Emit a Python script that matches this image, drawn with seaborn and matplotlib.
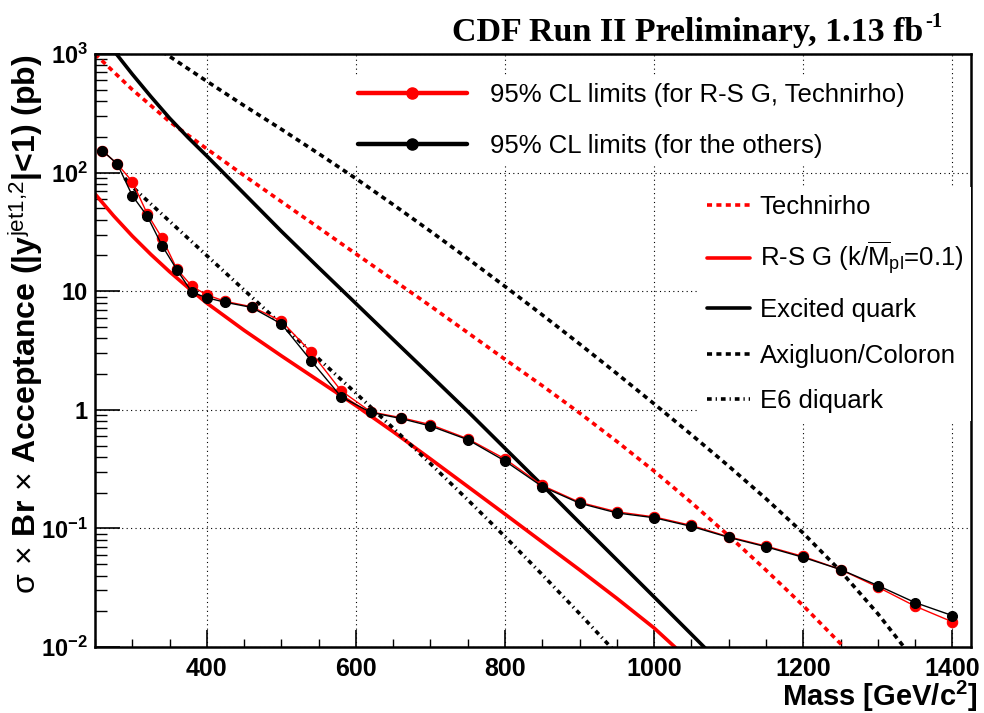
import matplotlib
matplotlib.use("Agg")
import matplotlib.pyplot as plt
import seaborn as sns
import numpy as np
from matplotlib.lines import Line2D
from matplotlib.ticker import FixedLocator, FixedFormatter, MultipleLocator, LogLocator, NullFormatter

# ---------------- data ----------------
mass_lim = [260, 280, 300, 320, 340, 360, 380, 400, 425, 460, 500, 540, 580, 620, 660,
            700, 750, 800, 850, 900, 950, 1000, 1050, 1100, 1150, 1200, 1250, 1300, 1350, 1400]
lim_others = [153, 118, 64, 43, 24.2, 15.1, 9.8, 8.8, 8.06, 7.3, 5.3, 2.59, 1.29, 0.95, 0.845,
              0.73, 0.56, 0.37, 0.225, 0.163, 0.135, 0.123, 0.104, 0.084, 0.070, 0.057, 0.045,
              0.033, 0.0237, 0.0184]
lim_rsg = [153, 118, 84, 45, 28, 15.3, 11, 9.3, 8.2, 7.4, 5.6, 3.05, 1.45, 0.96, 0.86,
           0.75, 0.57, 0.385, 0.23, 0.166, 0.138, 0.125, 0.106, 0.085, 0.071, 0.058, 0.045,
           0.032, 0.0221, 0.0163]

technirho_m = [250, 300, 350, 400, 450, 500, 550, 600, 650, 700, 750, 800, 850, 900, 950,
               1000, 1050, 1100, 1150, 1200, 1250, 1265]
technirho = [1000, 501, 269, 158.5, 94.4, 56.9, 34.3, 20.65, 12.45, 7.5, 4.47, 2.66, 1.596,
             0.94, 0.541, 0.304, 0.165, 0.0867, 0.0445, 0.0223, 0.01066, 0.0085]

rsg_m = [250, 275, 300, 325, 350, 375, 400, 450, 500, 550, 600, 650, 700, 750, 800, 850,
         900, 950, 1000, 1040]
rsg = [66.1, 43.2, 29.2, 20.4, 14.6, 10.7, 7.94, 4.68, 2.85, 1.758, 1.084, 0.653, 0.385,
       0.2254, 0.1318, 0.0767, 0.0447, 0.0257, 0.01445, 0.0085]

qstar_m = [275, 300, 325, 350, 375, 400, 450, 500, 550, 600, 650, 700, 750, 800, 850, 900,
           950, 1000, 1050, 1075]
qstar = [1070, 676, 437, 288, 197, 138, 66.5, 32, 15.8, 7.87, 3.91, 1.95, 0.97, 0.473, 0.231,
         0.1117, 0.0543, 0.0264, 0.0128, 0.0089]

axi_m = [340, 350, 400, 450, 500, 550, 600, 650, 700, 750, 800, 850, 900, 950, 1000, 1050,
         1100, 1150, 1200, 1250, 1300, 1350]
axi = [1047, 955, 589, 367, 232, 144.5, 89.1, 53.7, 32.0, 18.84, 10.96, 6.31, 3.59, 2.02,
       1.122, 0.617, 0.335, 0.178, 0.0912, 0.0437, 0.0191, 0.0076]

e6_m = [290, 300, 350, 400, 450, 500, 550, 600, 650, 700, 750, 800, 850, 900, 945]
e6 = [90, 75.9, 38.9, 19.95, 10.23, 5.25, 2.69, 1.38, 0.70, 0.351, 0.174, 0.0851, 0.0407,
      0.0191, 0.0095]

x_major = [400, 600, 800, 1000, 1200, 1400]
x_ticklabels = ["400", "600", "800", "1000", "1200", "1400"]
y_major = [1e-2, 1e-1, 1, 10, 1e2, 1e3]
y_ticklabels = [r"$\mathbf{10^{-2}}$", r"$\mathbf{10^{-1}}$", "1", "10",
                r"$\mathbf{10^{2}}$", r"$\mathbf{10^{3}}$"]

leg1_labels = ["95% CL limits (for R-S G, Technirho)", "95% CL limits (for the others)"]
leg2_labels = ["Technirho", r"R-S G (k/$\overline{\mathrm{M}}_{\mathrm{pl}}$=0.1)",
               "Excited quark", "Axigluon/Coloron", "E6 diquark"]

# ---------------- style ----------------
sns.set_theme(style="ticks")
plt.rcParams.update({
    "font.family": ["Liberation Sans", "DejaVu Sans"],
    "mathtext.fontset": "custom",
    "mathtext.rm": "Liberation Sans",
    "mathtext.it": "Liberation Sans:italic",
    "mathtext.bf": "Liberation Sans:bold",
    "axes.linewidth": 1.8,
    "axes.edgecolor": "black",
    "text.color": "black",
    "axes.labelcolor": "black",
    "xtick.color": "black",
    "ytick.color": "black",
    "xtick.labelcolor": "black",
    "ytick.labelcolor": "black",
})

RED = "#ff0000"
DOT = (1.4, 1.2)
DASHDOT = (1.3, 1.1, 0.35, 1.1)
LW = 2.6

fig = plt.figure(figsize=(9.84, 7.13), dpi=100)
ax = fig.add_axes([95 / 984, 1 - 647 / 713, 876 / 984, 593 / 713])
ax.set_yscale("log")

# theory curves
sns.lineplot(x=technirho_m, y=technirho, ax=ax, color=RED, linewidth=LW, estimator=None, sort=False)
ax.lines[-1].set_dashes(DOT)
sns.lineplot(x=rsg_m, y=rsg, ax=ax, color=RED, linewidth=LW, estimator=None, sort=False)
sns.lineplot(x=qstar_m, y=qstar, ax=ax, color="black", linewidth=LW, estimator=None, sort=False)
sns.lineplot(x=axi_m, y=axi, ax=ax, color="black", linewidth=LW, estimator=None, sort=False)
ax.lines[-1].set_dashes(DOT)
sns.lineplot(x=e6_m, y=e6, ax=ax, color="black", linewidth=LW, estimator=None, sort=False)
ax.lines[-1].set_dashes(DASHDOT)

# limits
sns.lineplot(x=mass_lim, y=lim_rsg, ax=ax, color=RED, linewidth=1.0, marker="o",
             markersize=7.5, markeredgecolor=RED, markerfacecolor=RED,
             estimator=None, sort=False)
sns.lineplot(x=mass_lim, y=lim_others, ax=ax, color="black", linewidth=1.0, marker="o",
             markersize=7.2, markeredgecolor="black", markerfacecolor="black",
             estimator=None, sort=False)

ax.set_xlim(250, 1425)
ax.set_ylim(1e-2, 1e3)

ax.xaxis.set_major_locator(FixedLocator(x_major))
ax.xaxis.set_major_formatter(FixedFormatter(x_ticklabels))
ax.xaxis.set_minor_locator(MultipleLocator(50))
ax.yaxis.set_major_locator(FixedLocator(y_major))
ax.yaxis.set_major_formatter(FixedFormatter(y_ticklabels))
ax.yaxis.set_minor_locator(LogLocator(base=10, subs=np.arange(2, 10)))
ax.yaxis.set_minor_formatter(NullFormatter())

ax.tick_params(axis="x", which="major", direction="in", length=12.5, width=1.2,
               labelsize=18, pad=7, colors="black")
ax.tick_params(axis="x", which="minor", direction="in", length=6, width=1.0, colors="black")
ax.tick_params(axis="y", which="major", direction="in", length=18, width=1.2,
               labelsize=17, pad=5, colors="black")
ax.tick_params(axis="y", which="minor", direction="in", length=8.6, width=1.0, colors="black")
plt.setp(ax.get_xticklabels(), fontweight="bold", color="black")
plt.setp(ax.get_yticklabels(), fontweight="bold", color="black")

ax.grid(True, which="major", color="black", linestyle=(0, (1, 3)), linewidth=0.8)
ax.set_axisbelow(True)
for s in ax.spines.values():
    s.set_visible(True)
    s.set_linewidth(1.8)
    s.set_color("black")

ax.set_xlabel(r"Mass [GeV/c$^{\mathbf{2}}$]", fontsize=21, fontweight="bold", loc="right",
              color="black")
ax.xaxis.set_label_coords(1.008, -0.054)
ax.set_ylabel(r"$\mathrm{\sigma}\,\times\,$Br$\,\times\,$Acceptance (|y$^{\mathrm{jet1{,}2}}$|<1) (pb)",
              fontsize=23, fontweight="bold", loc="top", color="black")
ax.yaxis.set_label_coords(-0.057, 1.0)

# legends
h1 = [Line2D([], [], color=RED, lw=3.2, marker="o", markersize=8, markeredgecolor=RED),
      Line2D([], [], color="black", lw=3.2, marker="o", markersize=8, markeredgecolor="black")]
leg1 = ax.legend(handles=h1, labels=leg1_labels, loc="upper left",
                 bbox_to_anchor=(0.291, 0.9646), fontsize=18.5, handlelength=4.24,
                 handletextpad=0.9, labelspacing=1.05, borderpad=0.3, borderaxespad=0,
                 frameon=True, fancybox=False, framealpha=1, facecolor="white",
                 edgecolor="none", numpoints=1, labelcolor="black")
ax.add_artist(leg1)

h2 = [Line2D([], [], color=RED, lw=LW, dashes=DOT),
      Line2D([], [], color=RED, lw=LW),
      Line2D([], [], color="black", lw=LW),
      Line2D([], [], color="black", lw=LW, dashes=DOT),
      Line2D([], [], color="black", lw=LW, dashes=DASHDOT)]
leg2 = ax.legend(handles=h2, labels=leg2_labels, loc="upper left",
                 bbox_to_anchor=(0.6895, 0.776), fontsize=18.5, handlelength=1.67,
                 handletextpad=0.39, labelspacing=0.83, borderpad=0.3, borderaxespad=0,
                 frameon=True, fancybox=False, framealpha=1, facecolor="white",
                 edgecolor="none", labelcolor="black")

# title
fig.text(923 / 984, 1 - 41 / 713, "CDF Run II Preliminary, 1.13 fb", ha="right",
         va="baseline", fontsize=24.5, fontweight="bold", color="black",
         fontfamily=["Liberation Serif", "DejaVu Serif"])
fig.text(925 / 984, 1 - 27 / 713, "-1", ha="left", va="baseline", fontsize=15,
         fontweight="bold", color="black", fontfamily=["Liberation Serif", "DejaVu Serif"])

fig.savefig("out.png", dpi=100, facecolor="white")
